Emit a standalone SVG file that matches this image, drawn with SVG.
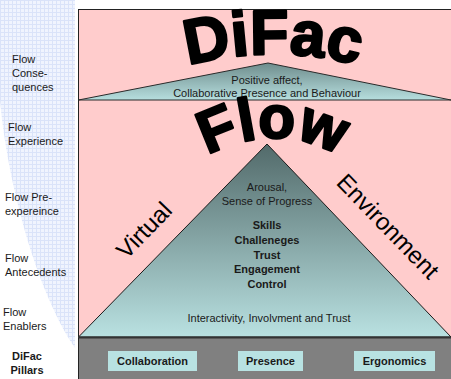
<svg xmlns="http://www.w3.org/2000/svg" xmlns:xlink="http://www.w3.org/1999/xlink" width="451" height="379" viewBox="0 0 451 379">
  <defs>
    <pattern id="grid" width="4" height="4" patternUnits="userSpaceOnUse">
      <rect width="4" height="4" fill="#f0f4fe"/>
      <rect width="4" height="1" fill="#dae3f9"/>
      <rect width="1" height="4" fill="#dae3f9"/>
    </pattern>
    <linearGradient id="topTri" x1="0" y1="0" x2="0" y2="1">
      <stop offset="0" stop-color="#6e8c8c"/>
      <stop offset="1" stop-color="#b6dede"/>
    </linearGradient>
    <linearGradient id="bigTri" x1="0" y1="0" x2="0" y2="1">
      <stop offset="0" stop-color="#526a6a"/>
      <stop offset="1" stop-color="#b9e1e1"/>
    </linearGradient>
    <path id="arcDiFac" d="M114,95 A330,330 0 0,1 432,95"/>
    <path id="arcFlow" d="M173,185 A130,130 0 0,1 373,185"/>
    <style>
      .lbl { font-family: "Liberation Sans", Arial, sans-serif; font-size: 11px; fill: #1a1a1a; }
      .in { font-family: "Liberation Sans", Arial, sans-serif; font-size: 11px; fill: #1a1a1a; text-anchor: middle; }
      .b { font-weight: bold; }
      .big { font-family: "Liberation Sans", Arial, sans-serif; font-weight: bold; fill: #000; stroke: #000; stroke-width: 2.4; stroke-linejoin: round; }
      .side { font-family: "Liberation Sans", Arial, sans-serif; font-size: 24px; fill: #000; text-anchor: middle; }
      .pillar { fill: #b8e2e2; }
    </style>
  </defs>

  <!-- left legend strip: grid band with a curved white cut-out at the lower left -->
  <g id="legend-bg">
    <rect x="0" y="0" width="75" height="379" fill="url(#grid)"/>
    <path d="M0,100 C8,190 40,300 78,352 L78,379 L0,379 Z" fill="#ffffff"/>
  </g>

  <g id="legend">
    <text class="lbl" x="12" y="63">Flow</text>
    <text class="lbl" x="12" y="77">Conse-</text>
    <text class="lbl" x="12" y="91">quences</text>
    <text class="lbl" x="8" y="131">Flow</text>
    <text class="lbl" x="8" y="145">Experience</text>
    <text class="lbl" x="5" y="201">Flow Pre-</text>
    <text class="lbl" x="5" y="215">expereince</text>
    <text class="lbl" x="5" y="262">Flow</text>
    <text class="lbl" x="5" y="276">Antecedents</text>
    <text class="lbl" x="3" y="316">Flow</text>
    <text class="lbl" x="3" y="330">Enablers</text>
    <text class="lbl b" x="27" y="360" text-anchor="middle">DiFac</text>
    <text class="lbl b" x="27" y="374" text-anchor="middle">Pillars</text>
  </g>

  <!-- main frame -->
  <g id="frame">
    <rect x="78.5" y="9.5" width="380" height="370" fill="#ffcccc" stroke="#222" stroke-width="1"/>
  </g>

  <!-- DiFac level -->
  <g id="difac">
    <polygon points="78.5,100 268,63 451,100" fill="url(#topTri)" stroke="#2a2a2a" stroke-width="1"/>
    <text class="big" font-size="63"><textPath xlink:href="#arcDiFac" startOffset="50%" text-anchor="middle">DiFac</textPath></text>
    <text class="in" x="267" y="84">Positive affect,</text>
    <text class="in" x="267" y="97">Collaborative Presence and Behaviour</text>
  </g>

  <!-- Flow level -->
  <g id="flow">
    <polygon points="78.5,337 267,144 451,337" fill="url(#bigTri)" stroke="#1a1a1a" stroke-width="1"/>
    <text class="big" font-size="60"><textPath xlink:href="#arcFlow" startOffset="50%" text-anchor="middle">Flow</textPath></text>
    <text class="side" transform="translate(150,236) rotate(-46)">Virtual</text>
    <text class="side" transform="translate(382,232) rotate(46)">Environment</text>
    <text class="in" x="267" y="191">Arousal,</text>
    <text class="in" x="267" y="205">Sense of Progress</text>
    <text class="in b" x="267" y="229">Skills</text>
    <text class="in b" x="267" y="244">Challeneges</text>
    <text class="in b" x="267" y="259">Trust</text>
    <text class="in b" x="267" y="273">Engagement</text>
    <text class="in b" x="267" y="288">Control</text>
    <text class="in" x="269" y="322">Interactivity, Involvment and Trust</text>
  </g>

  <!-- DiFac pillars -->
  <g id="pillars">
    <rect x="78.5" y="338" width="380" height="41" fill="#808080"/>
    <line x1="78" y1="337.5" x2="451" y2="337.5" stroke="#333" stroke-width="2"/>
    <line x1="78.5" y1="338" x2="78.5" y2="379" stroke="#222" stroke-width="1"/>
  </g>
  <g id="pillar-collaboration">
    <rect class="pillar" x="108" y="351" width="89" height="20"/>
    <text class="in b" x="152.5" y="365">Collaboration</text>
  </g>
  <g id="pillar-presence">
    <rect class="pillar" x="238" y="351" width="65" height="20"/>
    <text class="in b" x="270.5" y="365">Presence</text>
  </g>
  <g id="pillar-ergonomics">
    <rect class="pillar" x="354" y="351" width="81" height="20"/>
    <text class="in b" x="394.5" y="365">Ergonomics</text>
  </g>
</svg>
